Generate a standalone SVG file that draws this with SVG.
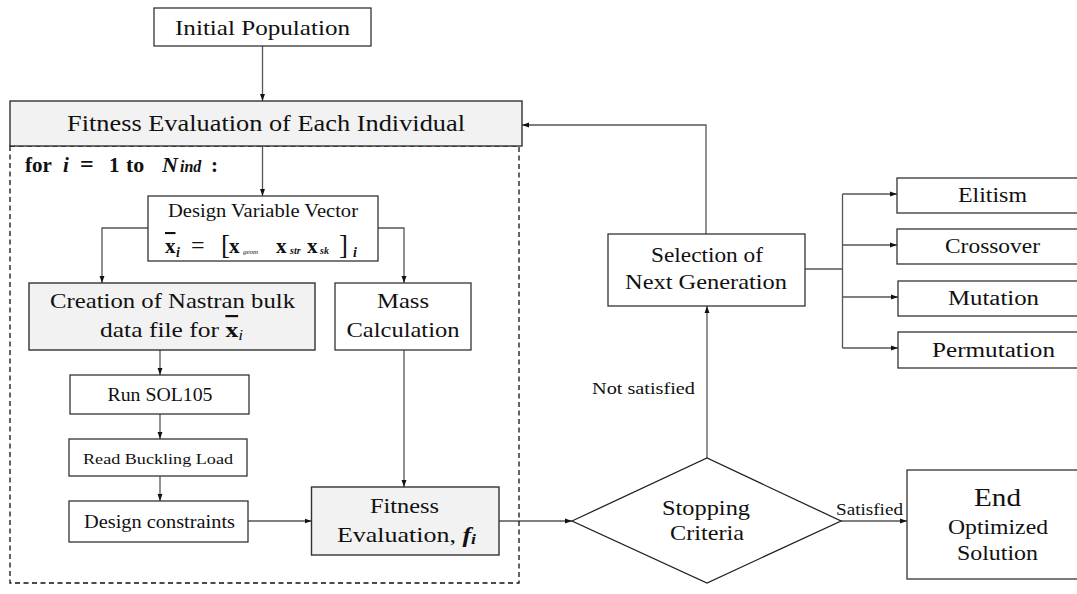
<svg xmlns="http://www.w3.org/2000/svg" width="1077" height="594" viewBox="0 0 1077 594" font-family="'Liberation Serif', 'DejaVu Serif', serif">
<defs>
<marker id="arr" viewBox="0 0 10 10" refX="10" refY="5" markerWidth="7" markerHeight="7" orient="auto" markerUnits="userSpaceOnUse">
<path d="M0,1.5 L10,5 L0,8.5 z" fill="#111"/>
</marker>
<style>
.box{fill:#fff;stroke:#333;stroke-width:1.3}
.gbox{fill:#f2f2f2;stroke:#333;stroke-width:1.4}
.t{fill:#111;text-anchor:middle}
.c{fill:none;stroke:#555;stroke-width:1.3}
.ca{fill:none;stroke:#555;stroke-width:1.3;marker-end:url(#arr)}
.dash{fill:none;stroke:#111;stroke-width:1.3;stroke-dasharray:5,3.5}
</style>
</defs>
<rect width="1077" height="594" fill="#fff"/>

<g id="connectors">
<path class="ca" d="M262.5,46 V101"/>
<path class="ca" d="M262.5,146 V196"/>
<path class="ca" d="M148,228 H102 V283"/>
<path class="ca" d="M378,228 H404 V283"/>
<path class="ca" d="M160,350 V375"/>
<path class="ca" d="M160,414 V439"/>
<path class="ca" d="M160,476 V501"/>
<path class="ca" d="M404,350 V487"/>
<path class="ca" d="M248,521 H311.5"/>
<path class="ca" d="M499,521 H572"/>
<path class="ca" d="M841,521 H907"/>
<path class="ca" d="M707,458 V306"/>
<path class="ca" d="M706,234 V125 H522"/>
<path class="c" d="M805,269 H842.5"/>
<path class="c" d="M842.5,194 V348"/>
<path class="ca" d="M842.5,194 H897"/>
<path class="ca" d="M842.5,245 H897"/>
<path class="ca" d="M842.5,297 H898"/>
<path class="ca" d="M842.5,348 H898"/>
<text class="t" x="869.5" y="515" font-size="17" textLength="67" lengthAdjust="spacingAndGlyphs">Satisfied</text>
<text class="t" x="643.5" y="394" font-size="17" textLength="103" lengthAdjust="spacingAndGlyphs">Not satisfied</text>
</g>

<rect class="dash" x="10" y="146" width="509" height="437"/>

<g id="initial">
<rect class="box" x="154" y="8" width="217" height="38"/>
<text class="t" x="262.5" y="35" font-size="22" textLength="175" lengthAdjust="spacingAndGlyphs">Initial Population</text>
</g>

<g id="fitness-all">
<rect class="gbox" x="10" y="101" width="512" height="45"/>
<text class="t" x="266" y="131" font-size="23" textLength="398" lengthAdjust="spacingAndGlyphs">Fitness Evaluation of Each Individual</text>
</g>

<g id="loop-label">
<text y="172" font-weight="bold" fill="#111" font-size="21"><tspan x="25">for</tspan><tspan x="63" font-style="italic">i</tspan><tspan x="80" font-size="24">=</tspan><tspan x="109">1</tspan><tspan x="126" font-size="22">to</tspan><tspan x="162" font-size="22" font-style="italic">N</tspan><tspan x="180" font-size="16" font-style="italic">ind</tspan><tspan x="211">:</tspan></text>
</g>

<g id="dvv">
<rect class="box" x="148" y="196" width="230" height="65"/>
<text class="t" x="263" y="217" font-size="18" textLength="190" lengthAdjust="spacingAndGlyphs">Design Variable Vector</text>
<text y="253" fill="#111"><tspan x="165" font-size="21" font-weight="bold" text-decoration="overline">x</tspan><tspan x="176" y="257" font-size="14" font-weight="bold" font-style="italic">i</tspan><tspan x="191" y="253" font-size="24">=</tspan><tspan x="221" y="254" font-size="27">[</tspan><tspan x="229" y="253" font-size="21" font-weight="bold">x</tspan><tspan x="243" y="254" font-size="7" font-style="italic">geom</tspan><tspan x="276" y="253" font-size="21" font-weight="bold">x</tspan><tspan x="290" y="254" font-size="10" font-weight="bold" font-style="italic">str</tspan><tspan x="307" y="253" font-size="21" font-weight="bold">x</tspan><tspan x="320" y="254" font-size="10" font-weight="bold" font-style="italic">sk</tspan><tspan x="339" y="254" font-size="27">]</tspan><tspan x="353" y="257" font-size="14" font-weight="bold" font-style="italic">i</tspan></text>
</g>

<g id="creation">
<rect class="gbox" x="29" y="283" width="286" height="67"/>
<text class="t" x="172.5" y="308" font-size="22" textLength="245" lengthAdjust="spacingAndGlyphs">Creation of Nastran bulk</text>
<text class="t" x="171.5" y="337" font-size="22" textLength="143" lengthAdjust="spacingAndGlyphs">data file for <tspan font-weight="bold" text-decoration="overline">x</tspan><tspan font-size="15" font-style="italic" dy="3">i</tspan></text>
</g>

<g id="mass">
<rect class="box" x="335" y="283" width="136" height="67"/>
<text class="t" x="403" y="308" font-size="22" textLength="52" lengthAdjust="spacingAndGlyphs">Mass</text>
<text class="t" x="403" y="337" font-size="22" textLength="113" lengthAdjust="spacingAndGlyphs">Calculation</text>
</g>

<g id="sol105">
<rect class="box" x="70" y="375" width="179" height="39"/>
<text class="t" x="160" y="401" font-size="18" textLength="105" lengthAdjust="spacingAndGlyphs">Run SOL105</text>
</g>

<g id="buckling">
<rect class="box" x="69" y="439" width="178" height="37"/>
<text class="t" x="158" y="464" font-size="15.5" textLength="150" lengthAdjust="spacingAndGlyphs">Read Buckling Load</text>
</g>

<g id="constraints">
<rect class="box" x="69" y="501" width="179" height="41"/>
<text class="t" x="159.5" y="528" font-size="18" textLength="151" lengthAdjust="spacingAndGlyphs">Design constraints</text>
</g>

<g id="fitness-i">
<rect class="gbox" x="311.5" y="487" width="187.5" height="68"/>
<text class="t" x="404.5" y="513" font-size="22" textLength="69" lengthAdjust="spacingAndGlyphs">Fitness</text>
<text class="t" x="406.5" y="542" font-size="22" textLength="139" lengthAdjust="spacingAndGlyphs">Evaluation, <tspan font-weight="bold" font-style="italic">f</tspan><tspan font-weight="bold" font-style="italic" font-size="15" dy="2">i</tspan></text>
</g>

<g id="stopping">
<polygon points="572,521 707,458 841,521 707,583" fill="#fff" stroke="#222" stroke-width="1.3"/>
<text class="t" x="706" y="515" font-size="22" textLength="88" lengthAdjust="spacingAndGlyphs">Stopping</text>
<text class="t" x="707" y="540" font-size="22" textLength="74" lengthAdjust="spacingAndGlyphs">Criteria</text>
</g>

<g id="end">
<rect class="box" x="907" y="470" width="180" height="109"/>
<text class="t" x="997.5" y="506" font-size="26" textLength="47" lengthAdjust="spacingAndGlyphs">End</text>
<text class="t" x="998" y="534" font-size="21.5" textLength="100" lengthAdjust="spacingAndGlyphs">Optimized</text>
<text class="t" x="997.5" y="560" font-size="21.5" textLength="81" lengthAdjust="spacingAndGlyphs">Solution</text>
</g>

<g id="selection">
<rect class="box" x="608" y="234" width="197" height="72"/>
<text class="t" x="707" y="262" font-size="21.5" textLength="112" lengthAdjust="spacingAndGlyphs">Selection of</text>
<text class="t" x="706" y="289" font-size="21.5" textLength="162" lengthAdjust="spacingAndGlyphs">Next Generation</text>
</g>

<g id="elitism">
<rect class="box" x="897" y="178" width="190" height="35"/>
<text class="t" x="992.5" y="202" font-size="20" textLength="69" lengthAdjust="spacingAndGlyphs">Elitism</text>
</g>
<g id="crossover">
<rect class="box" x="897" y="229" width="190" height="35"/>
<text class="t" x="992.5" y="253" font-size="20" textLength="95" lengthAdjust="spacingAndGlyphs">Crossover</text>
</g>
<g id="mutation">
<rect class="box" x="898" y="281" width="190" height="35"/>
<text class="t" x="993.5" y="305" font-size="20" textLength="91" lengthAdjust="spacingAndGlyphs">Mutation</text>
</g>
<g id="permutation">
<rect class="box" x="898" y="332" width="190" height="36"/>
<text class="t" x="993.5" y="357" font-size="20" textLength="123" lengthAdjust="spacingAndGlyphs">Permutation</text>
</g>
</svg>
